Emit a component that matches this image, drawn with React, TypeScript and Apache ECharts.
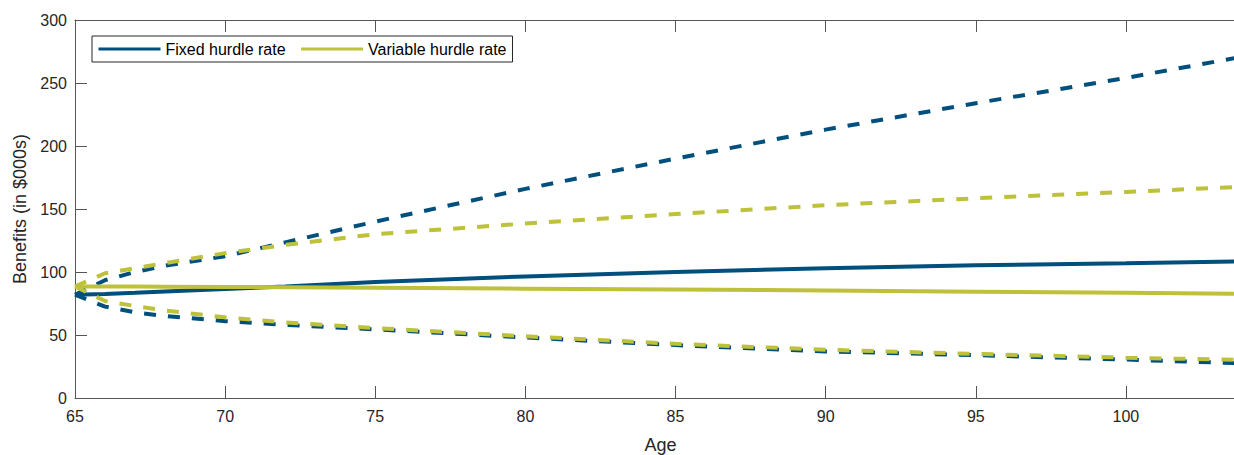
import React, { useEffect, useRef } from "react";
import * as echarts from "echarts";

const ages = [65, 66, 67, 68, 70, 72, 75, 80, 85, 90, 95, 100, 104];
const fixedMedian = [82, 82.6, 83.5, 84.5, 86.5, 88.5, 92, 96.5, 100, 103, 105.3, 107, 108.5];
const fixedUpper = [82, 93.5, 100, 105, 112.5, 123.5, 140, 166, 190, 213, 234, 254, 271.4];
const fixedLower = [82, 72.5, 68, 65, 61, 58, 54.5, 48, 42, 37, 34, 30.5, 27.4];
const varMedian = [88.5, 88.5, 88.4, 88.3, 88.1, 87.9, 87.5, 86.8, 86.1, 85.3, 84.4, 83.5, 82.6];
const varUpper = [88.5, 99, 103, 107, 115, 121.5, 130, 138.5, 146, 153, 158.5, 163.5, 167.8];
const varLower = [88.5, 77, 73, 69.5, 64, 60, 55.5, 49, 43, 38.3, 35, 32, 30.1];

const yTicks = [0, 50, 100, 150, 200, 250, 300];

const BLUE = "#004f7c";
const YELLOW = "#bec13a";
const FONT = "'Liberation Sans', Arial, Helvetica, sans-serif";
const AXIS = "#555555";
const TEXT = "#262626";

const pairs = (ys: number[]) => ages.map((a, i) => [a, ys[i]]);

export default function App() {
  const ref = useRef<HTMLDivElement>(null);
  useEffect(() => {
    if (!ref.current) return;
    document.body.style.margin = "0";
    document.body.style.overflow = "hidden";
    const chart = echarts.init(ref.current, null, { renderer: "svg" });
    const solid = (name: string, color: string, ys: number[]) => ({
      name,
      type: "line",
      data: pairs(ys),
      symbol: "none",
      smooth: false,
      lineStyle: { color, width: 4 },
      itemStyle: { color },
    });
    const dashed = (name: string, color: string, ys: number[]) => ({
      name,
      type: "line",
      data: pairs(ys),
      symbol: "none",
      lineStyle: { color, width: 4, type: [12, 12] },
      itemStyle: { color },
    });
    chart.setOption({
      animation: false,
      backgroundColor: "#ffffff",
      textStyle: { fontFamily: FONT },
      grid: { left: 75, top: 20, width: 1171, height: 378, outerBoundsMode: "none", containLabel: false },
      legend: {
        data: ["Fixed hurdle rate", "Variable hurdle rate"],
        left: 92,
        top: 36,
        orient: "horizontal",
        itemWidth: 62,
        itemHeight: 14,
        itemGap: 14,
        padding: [5, 6, 5, 5],
        borderColor: "#262626",
        borderWidth: 1,
        backgroundColor: "#ffffff",
        itemStyle: { opacity: 0 },
        lineStyle: { width: 3 },
        textStyle: { fontSize: 16, color: "#000000", fontFamily: FONT },
      },
      xAxis: [
        {
          type: "value",
          min: 65,
          max: 104,
          interval: 5,
          name: "Age",
          nameLocation: "middle",
          nameGap: 38,
          nameTextStyle: { fontSize: 18, color: TEXT, fontFamily: FONT },
          axisLine: { show: true, lineStyle: { color: AXIS, width: 1 } },
          axisTick: { show: true, inside: true, length: 12, lineStyle: { color: AXIS } },
          axisLabel: { fontSize: 16, color: TEXT, margin: 10, showMaxLabel: false, fontFamily: FONT },
          splitLine: { show: false },
        },
        {
          type: "value",
          position: "top",
          min: 65,
          max: 104,
          interval: 5,
          axisLine: { show: true, lineStyle: { color: AXIS, width: 1 } },
          axisTick: { show: true, inside: true, length: 12, lineStyle: { color: AXIS } },
          axisLabel: { show: false },
          splitLine: { show: false },
        },
      ],
      yAxis: {
        type: "value",
        min: yTicks[0],
        max: yTicks[yTicks.length - 1],
        interval: 50,
        name: "Benefits (in $000s)",
        nameLocation: "middle",
        nameGap: 43,
        nameTextStyle: { fontSize: 18, color: TEXT, fontFamily: FONT },
        axisLine: { show: true, lineStyle: { color: AXIS, width: 1 } },
        axisTick: { show: true, inside: true, length: 12, lineStyle: { color: AXIS } },
        axisLabel: { fontSize: 16, color: TEXT, margin: 8, fontFamily: FONT },
        splitLine: { show: false },
      },
      series: [
        solid("Fixed hurdle rate", BLUE, fixedMedian),
        dashed("Fixed upper", BLUE, fixedUpper),
        dashed("Fixed lower", BLUE, fixedLower),
        solid("Variable hurdle rate", YELLOW, varMedian),
        dashed("Variable upper", YELLOW, varUpper),
        dashed("Variable lower", YELLOW, varLower),
      ],
    });
    return () => chart.dispose();
  }, []);
  return (
    <div
      style={{ position: "fixed", left: 0, top: 0, width: 1234, height: 455, overflow: "hidden", background: "#fff" }}
    >
      <div ref={ref} style={{ width: 1234, height: 455, overflow: "hidden" }} />
    </div>
  );
}
